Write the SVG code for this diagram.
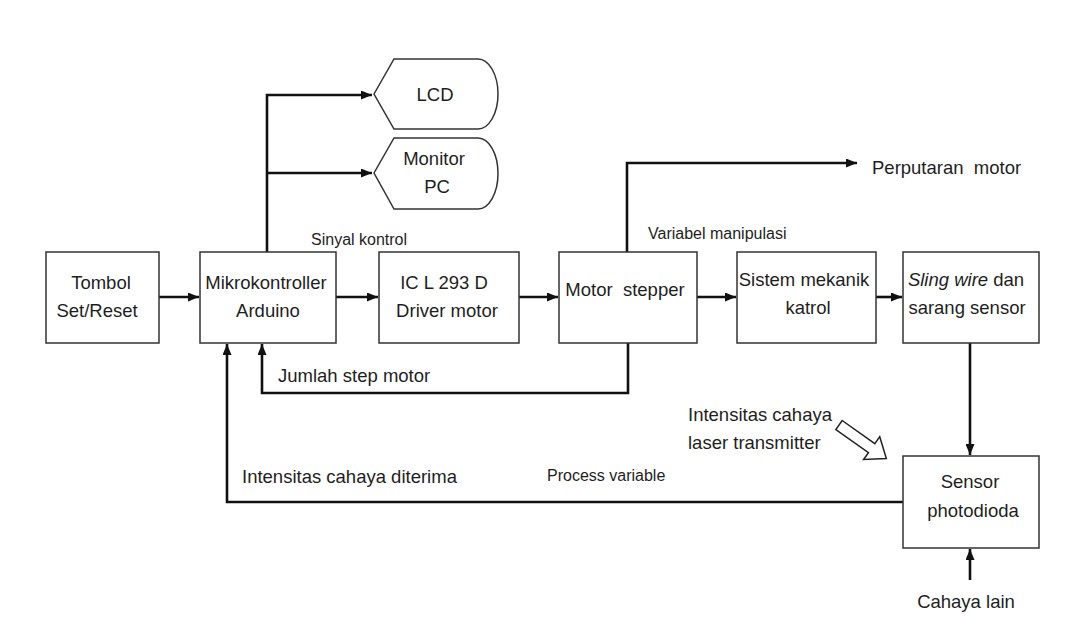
<svg xmlns="http://www.w3.org/2000/svg" width="1086" height="639" viewBox="0 0 1086 639">
<style>
.box{fill:#fff;stroke:#333;stroke-width:1.5}
.con{fill:none;stroke:#111;stroke-width:2.6}
text{font-family:"Liberation Sans",Arial,sans-serif;fill:#1e1e1e}
.t{font-size:18.5px;text-anchor:middle}
.l{font-size:18.5px}
.s{font-size:16px}
</style>
<defs>
<marker id="ah" markerUnits="userSpaceOnUse" markerWidth="11" markerHeight="9" refX="11" refY="4.5" orient="auto">
<path d="M0,0 L11,4.5 L0,9 z" fill="#111"/>
</marker>
</defs>
<rect width="1086" height="639" fill="#fff"/>
<g id="connectors">
<path class="con" d="M267,252 V95 H372" marker-end="url(#ah)"/>
<path class="con" d="M267,173 H372" marker-end="url(#ah)"/>
<path class="con" d="M159,297 H199" marker-end="url(#ah)"/>
<path class="con" d="M336,297 H378" marker-end="url(#ah)"/>
<path class="con" d="M519,297 H558" marker-end="url(#ah)"/>
<path class="con" d="M697,297 H736" marker-end="url(#ah)"/>
<path class="con" d="M876,297 H902" marker-end="url(#ah)"/>
<path class="con" d="M627,252 V163 H857" marker-end="url(#ah)"/>
<path class="con" d="M628,343 V393 H262 V344" marker-end="url(#ah)"/>
<path class="con" d="M903,502 H227 V344" marker-end="url(#ah)"/>
<path class="con" d="M970,343 V455" marker-end="url(#ah)"/>
<path class="con" d="M970,580 V549" marker-end="url(#ah)"/>
<polygon transform="translate(839,425) rotate(35.3)" points="0,-5.5 40,-5.5 40,-14 58,0 40,14 40,5.5 0,5.5" fill="#fff" stroke="#222" stroke-width="1.5"/>
</g>
<g id="lcd">
<path class="box" d="M374,94 L394,59 H478 A20,35 0 0 1 478,129 H394 Z"/>
<text class="t" x="435" y="101">LCD</text>
</g>
<g id="monitor">
<path class="box" d="M374,173 L394,138 H478 A20,35.5 0 0 1 478,209 H394 Z"/>
<text class="t" x="434" y="165">Monitor</text>
<text class="t" x="437" y="193">PC</text>
</g>
<g id="tombol">
<rect class="box" x="46" y="252" width="113" height="91"/>
<text class="t" x="101" y="289">Tombol</text>
<text class="t" x="97" y="317">Set/Reset</text>
</g>
<g id="mikro">
<rect class="box" x="200" y="252" width="136" height="91"/>
<text class="t" x="266" y="289">Mikrokontroller</text>
<text class="t" x="268" y="317">Arduino</text>
</g>
<g id="ic">
<rect class="box" x="379" y="252" width="140" height="91"/>
<text class="t" x="444" y="289">IC L 293 D</text>
<text class="t" x="447" y="317">Driver  motor</text>
</g>
<g id="stepper">
<rect class="box" x="559" y="252" width="138" height="91"/>
<text class="t" x="625" y="296" xml:space="preserve">Motor  stepper</text>
</g>
<g id="katrol">
<rect class="box" x="737" y="252" width="139" height="91"/>
<text class="t" x="804" y="286">Sistem mekanik</text>
<text class="t" x="808" y="314">katrol</text>
</g>
<g id="sling">
<rect class="box" x="903" y="252" width="136" height="91"/>
<text class="t" x="966" y="286"><tspan font-style="italic">Sling wire</tspan> dan</text>
<text class="t" x="967" y="314">sarang sensor</text>
</g>
<g id="sensor">
<rect class="box" x="903" y="456" width="136" height="92"/>
<text class="t" x="970" y="488">Sensor</text>
<text class="t" x="973" y="517">photodioda</text>
</g>
<g id="labels">
<text class="l" x="872" y="174" xml:space="preserve">Perputaran  motor</text>
<text class="s" x="311" y="245">Sinyal kontrol</text>
<text class="s" x="648" y="239">Variabel manipulasi</text>
<text class="l" x="278" y="382">Jumlah step motor</text>
<text class="l" x="242" y="483">Intensitas cahaya diterima</text>
<text class="s" x="547" y="481">Process variable</text>
<text class="l" x="688" y="421">Intensitas cahaya</text>
<text class="l" x="688" y="449">laser transmitter</text>
<text class="t" x="966" y="608">Cahaya lain</text>
</g>
</svg>
